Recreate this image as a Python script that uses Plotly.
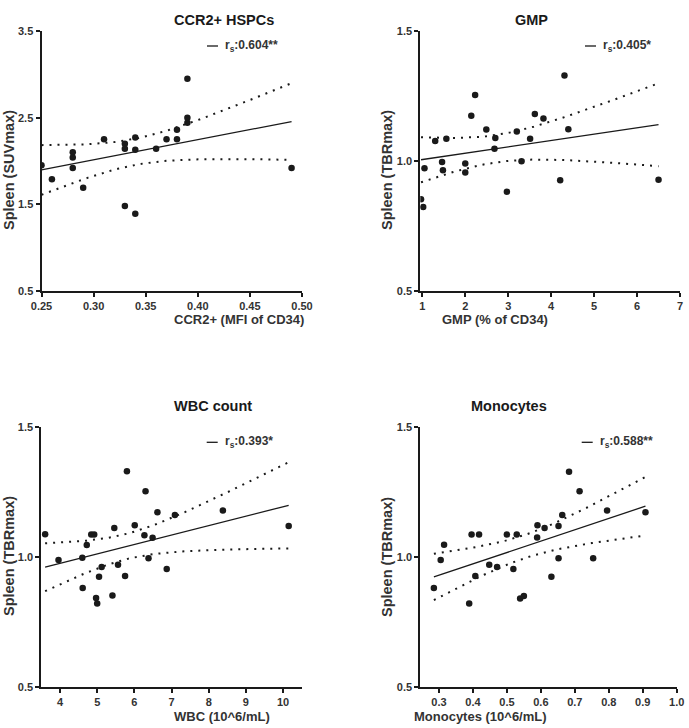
import numpy as np
import plotly.graph_objects as go

# ---- data ----
ccr2_x = [0.25, 0.26, 0.28, 0.28, 0.28, 0.29, 0.31, 0.33, 0.33, 0.33, 0.34,
          0.34, 0.34, 0.36, 0.37, 0.38, 0.38, 0.39, 0.39, 0.39, 0.49]
ccr2_y = [1.95, 1.79, 2.10, 2.04, 1.92, 1.69, 2.25, 2.20, 2.14, 1.48, 2.27,
          2.13, 1.39, 2.14, 2.25, 2.25, 2.36, 2.95, 2.50, 2.44, 1.92]

gmp_x = [0.97, 1.02, 1.05, 1.30, 1.46, 1.48, 1.56, 2.00, 2.00, 2.14, 2.23, 2.49,
         2.70, 2.68, 2.97, 3.20, 3.31, 3.51, 3.62, 3.82, 4.21, 4.31, 4.40, 6.50]
gmp_y = [0.853, 0.823, 0.972, 1.077, 0.996, 0.964, 1.086, 0.990, 0.956, 1.174,
         1.254, 1.121, 1.088, 1.047, 0.882, 1.113, 0.999, 1.086, 1.181, 1.163,
         0.926, 1.329, 1.122, 0.928]

wbc_x = [3.60, 3.96, 4.60, 4.61, 4.72, 4.84, 4.92, 4.97, 5.00, 5.05, 5.12, 5.41, 5.46,
         5.56, 5.75, 5.80, 6.01, 6.27, 6.30, 6.38, 6.49, 6.62, 6.87, 7.09, 8.38, 10.15]
wbc_y = [1.088, 0.989, 0.998, 0.881, 1.047, 1.087, 1.087, 0.843, 0.822, 0.925, 0.962,
         0.852, 1.112, 0.971, 0.927, 1.331, 1.123, 1.084, 1.254, 0.996, 1.075, 1.173,
         0.954, 1.162, 1.180, 1.120]

mono_x = [0.285, 0.305, 0.315, 0.389, 0.396, 0.407, 0.418, 0.448, 0.471, 0.500, 0.519,
          0.529, 0.539, 0.550, 0.589, 0.590, 0.611, 0.631, 0.652, 0.652, 0.663, 0.683,
          0.714, 0.754, 0.795, 0.908]
mono_y = [0.881, 0.989, 1.048, 0.822, 1.087, 0.927, 1.087, 0.971, 0.962, 1.087, 0.954,
          1.087, 0.841, 0.850, 1.076, 1.123, 1.112, 0.925, 0.996, 1.120, 1.162, 1.329,
          1.254, 0.996, 1.180, 1.173]

titles = ["CCR2+ HSPCs", "GMP", "WBC count", "Monocytes"]
x_titles = ["CCR2+ (MFI of CD34)", "GMP (% of CD34)", "WBC (10^6/mL)", "Monocytes (10^6/mL)"]
y_titles = ["Spleen (SUVmax)", "Spleen (TBRmax)", "Spleen (TBRmax)", "Spleen (TBRmax)"]
rs_labels = ["0.604**", "0.405*", "0.393*", "0.588**"]

x_ticks = [[0.25, 0.30, 0.35, 0.40, 0.45, 0.50], [1, 2, 3, 4, 5, 6, 7],
           [4, 5, 6, 7, 8, 9, 10], [0.3, 0.4, 0.5, 0.6, 0.7, 0.8, 0.9, 1.0]]
x_ticktext = [["0.25", "0.30", "0.35", "0.40", "0.45", "0.50"],
              ["1", "2", "3", "4", "5", "6", "7"],
              ["4", "5", "6", "7", "8", "9", "10"],
              ["0.3", "0.4", "0.5", "0.6", "0.7", "0.8", "0.9", "1.0"]]
y_ticks = [[0.5, 1.5, 2.5, 3.5], [0.5, 1.0, 1.5], [0.5, 1.0, 1.5], [0.5, 1.0, 1.5]]
y_ticktext = [["0.5", "1.5", "2.5", "3.5"], ["0.5", "1.0", "1.5"],
              ["0.5", "1.0", "1.5"], ["0.5", "1.0", "1.5"]]
x_ranges = [[0.25, 0.50], [0.953, 7.0], [3.497, 10.5], [0.245, 1.0]]
y_ranges = [[0.5, 3.5], [0.5, 1.5], [0.5, 1.5], [0.5, 1.5]]

# t critical (two-sided 95%) by degrees of freedom
t_crit = {19: 2.093, 22: 2.074, 24: 2.064}

W, H = 689, 728
# panel boxes in pixels: left, right, top, bottom
boxes = [(41.5, 302, 31, 291), (420.3, 680, 31, 291),
         (41.3, 301.7, 427.3, 687), (420.3, 676.7, 427.3, 687)]
# where the axis titles sit (pixels)
xtitle_y = [319, 319, 716, 716]
ytitle_pos = [(9, 170), (387, 170), (9, 556), (387, 557)]

FONT = "Liberation Sans, Arial, sans-serif"
INK = "#1a1a1a"
GREY = "#333"


def px(v):
    return v / W


def py(v):
    return 1 - v / H


def bold(items):
    return ["<b>" + s + "</b>" for s in items]


fig = go.Figure()
datasets = [(ccr2_x, ccr2_y), (gmp_x, gmp_y), (wbc_x, wbc_y), (mono_x, mono_y)]

for i, (xs, ys) in enumerate(datasets):
    k = "" if i == 0 else str(i + 1)
    xa, ya = "x" + k, "y" + k
    x = np.array(xs)
    y = np.array(ys)
    n = len(x)
    slope, icpt = np.polyfit(x, y, 1)
    xg = np.linspace(x.min(), x.max(), 60)
    fit = slope * xg + icpt
    resid = y - (slope * x + icpt)
    s = np.sqrt((resid ** 2).sum() / (n - 2))
    sxx = ((x - x.mean()) ** 2).sum()
    half = t_crit[n - 2] * s * np.sqrt(1 / n + (xg - x.mean()) ** 2 / sxx)

    for band in (fit + half, fit - half):
        fig.add_trace(go.Scatter(x=xg, y=band, mode="lines", xaxis=xa, yaxis=ya,
                                 line=dict(color=INK, width=2, dash="2px,6px"),
                                 showlegend=False, hoverinfo="skip"))
    fig.add_trace(go.Scatter(x=xg, y=fit, mode="lines", xaxis=xa, yaxis=ya,
                             line=dict(color=INK, width=1.3), showlegend=False))
    fig.add_trace(go.Scatter(x=xs, y=ys, mode="markers", xaxis=xa, yaxis=ya,
                             marker=dict(color=INK, size=6.5), showlegend=False))

    l, r, t, b = boxes[i]
    common = dict(showgrid=False, zeroline=False, showline=True, linecolor=INK,
                  linewidth=2, ticks="outside", ticklen=4, tickwidth=2, tickcolor=INK,
                  automargin=False,
                  tickfont=dict(family=FONT, size=11, color=GREY))
    fig.update_layout({
        "xaxis" + k: dict(domain=[px(l), px(r)], anchor=ya, range=x_ranges[i],
                          tickvals=x_ticks[i], ticktext=bold(x_ticktext[i]), **common),
        "yaxis" + k: dict(domain=[py(b), py(t)], anchor=xa, range=y_ranges[i],
                          tickvals=y_ticks[i], ticktext=bold(y_ticktext[i]), **common),
    })

    cx = (l + r) / 2
    fig.add_annotation(x=px(cx), y=py(t - 21), xref="paper", yref="paper",
                       text="<b>" + titles[i] + "</b>", showarrow=False,
                       font=dict(family=FONT, size=14.5, color=INK))
    fig.add_annotation(x=px(cx), y=py(xtitle_y[i]), xref="paper", yref="paper",
                       text="<b>" + x_titles[i] + "</b>", showarrow=False,
                       yanchor="middle", font=dict(family=FONT, size=13, color=GREY))
    yx, yy = ytitle_pos[i]
    fig.add_annotation(x=px(yx), y=py(yy), xref="paper", yref="paper",
                       text="<b>" + y_titles[i] + "</b>", showarrow=False, textangle=-90,
                       xanchor="center", yanchor="middle",
                       font=dict(family=FONT, size=14.5, color=GREY))
    # legend entry: short line + r_s label
    ly = t + 15
    lx0 = r - 95
    fig.add_shape(type="line", xref="paper", yref="paper",
                  x0=px(lx0), x1=px(lx0 + 11), y0=py(ly), y1=py(ly),
                  line=dict(color=INK, width=1.3))
    fig.add_annotation(x=px(lx0 + 16), y=py(ly), xref="paper", yref="paper",
                       xanchor="left", yanchor="middle", showarrow=False,
                       text="<b>r<sub>s</sub>:" + rs_labels[i] + "</b>",
                       font=dict(family=FONT, size=12, color=GREY))

fig.update_layout(width=W, height=H, margin=dict(l=0, r=0, t=0, b=0),
                  plot_bgcolor="white", paper_bgcolor="white", showlegend=False)

# drop the page's default body margin so the figure fills the window exactly
fig.write_html("out.html", config={"displayModeBar": False},
               post_script="document.body.style.margin='0';document.body.style.overflow='hidden';")
